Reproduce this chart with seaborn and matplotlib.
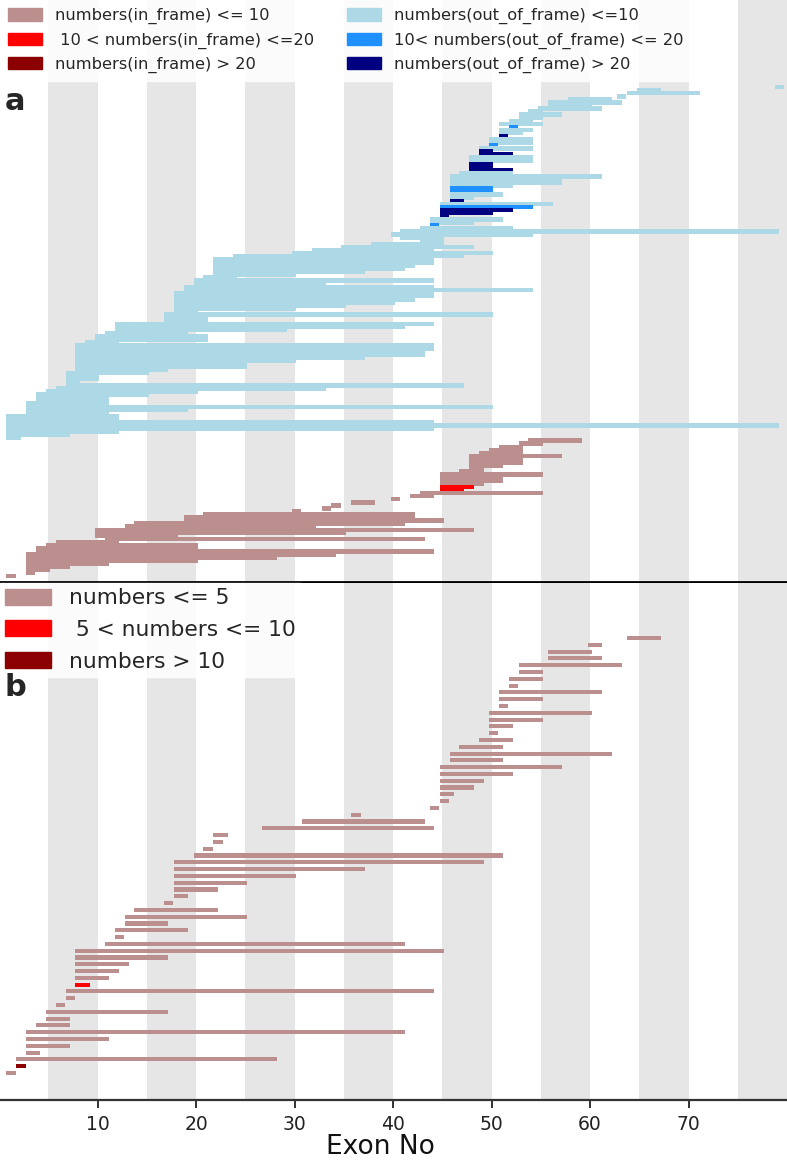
import numpy as np
import pandas as pd
import seaborn as sns
import matplotlib
matplotlib.use("Agg")
import matplotlib.pyplot as plt
from matplotlib.patches import Patch

# panel a, out of frame rows (top to bottom): first exon, last exon, count level
out_start = [79, 65, 64, 63, 58, 56, 56, 55, 54, 53, 53, 52, 51, 52, 51, 51, 51, 50, 50, 50,
             49, 49, 49, 48, 48, 48, 48, 48, 47, 46, 46, 46, 46, 46, 46, 46, 46, 46, 45, 45,
             45, 45, 45, 44, 44, 44, 43, 41, 40, 41, 43, 38, 35, 32, 30, 24, 22, 22, 22, 22,
             22, 22, 21, 20, 20, 19, 19, 18, 18, 18, 18, 18, 18, 18, 17, 17, 17, 12, 12, 12,
             11, 10, 10, 9, 8, 8, 8, 8, 8, 8, 8, 8, 8, 7, 7, 7, 7, 7, 6, 5,
             4, 4, 4, 3, 3, 3, 3, 1, 1, 1, 1, 1, 1, 1, 1]
out_end = [79, 67, 71, 63, 62, 63, 60, 61, 55, 57, 55, 54, 55, 52, 54, 53, 51, 54, 54, 50,
           54, 50, 52, 54, 54, 50, 50, 52, 52, 61, 57, 57, 52, 50, 50, 51, 48, 47, 56, 54,
           52, 50, 45, 51, 48, 44, 52, 79, 54, 45, 45, 45, 48, 44, 50, 47, 44, 44, 42, 41,
           37, 30, 24, 44, 33, 44, 54, 44, 44, 42, 40, 35, 30, 20, 50, 21, 21, 44, 41, 29,
           19, 21, 21, 12, 44, 44, 43, 43, 37, 30, 25, 25, 17, 15, 10, 10, 8, 47, 33, 20,
           15, 11, 11, 11, 50, 19, 11, 12, 12, 44, 79, 44, 12, 7, 2]
out_level = [0, 0, 0, 0, 0, 0, 0, 0, 0, 0, 0, 0, 0, 1, 0, 0, 2, 0, 0, 1,
             0, 2, 2, 0, 0, 2, 2, 2, 0, 0, 0, 0, 0, 1, 1, 0, 0, 2, 0, 1,
             2, 2, 2, 0, 0, 1, 0, 0] + [0] * 67

# panel a, in frame rows
in_start = [54, 53, 51, 50, 49, 48, 48, 48, 48, 48, 47, 45, 45, 45, 45, 45, 45, 43, 42, 40,
            36, 34, 33, 30, 21, 19, 19, 14, 13, 10, 10, 10, 11, 6, 5, 4, 4, 3, 3, 3,
            3, 3, 3, 3, 1]
in_end = [59, 55, 53, 53, 53, 57, 53, 53, 51, 49, 49, 55, 51, 51, 49, 48, 47, 55, 44, 40,
          38, 34, 33, 30, 42, 42, 45, 41, 32, 48, 35, 18, 43, 12, 20, 20, 44, 34, 28, 20,
          11, 7, 5, 3, 1]
in_level = [0] * 15 + [1, 1] + [0] * 28

# panel b rows
b_start = [64, 60, 56, 56, 53, 53, 52, 52, 51, 51, 51, 50, 50, 50, 50, 49, 47, 46, 46, 45,
           45, 45, 45, 45, 45, 44, 36, 31, 27, 22, 22, 21, 20, 18, 18, 18, 18, 18, 18, 17,
           14, 13, 13, 12, 12, 11, 8, 8, 8, 8, 8, 8, 7, 7, 6, 5, 5, 4, 3, 3,
           3, 3, 2, 2, 1]
b_end = [67, 61, 60, 61, 63, 55, 55, 52, 61, 55, 51, 60, 55, 52, 50, 52, 51, 62, 51, 57,
         52, 49, 48, 46, 45, 44, 36, 43, 44, 23, 22, 21, 51, 49, 37, 30, 25, 22, 19, 17,
         22, 25, 17, 19, 12, 41, 45, 17, 13, 12, 11, 9, 44, 7, 6, 17, 7, 7, 41, 11,
         7, 4, 28, 2, 1]
b_level = [0] * 51 + [1] + [0] * 11 + [2, 0]

in_colors = ["rosybrown", "red", "darkred"]
out_colors = ["lightblue", "dodgerblue", "navy"]
a_labels_in = ["numbers(in_frame) <= 10", " 10 < numbers(in_frame) <=20", "numbers(in_frame) > 20"]
a_labels_out = ["numbers(out_of_frame) <=10", "10< numbers(out_of_frame) <= 20", "numbers(out_of_frame) > 20"]
b_labels = ["numbers <= 5", " 5 < numbers <= 10", "numbers > 10"]
stripes = list(range(5, 80, 10))
xticks = [10, 20, 30, 40, 50, 60, 70]


def make_rows(start, end, level, colors):
    df = pd.DataFrame({"start": start, "end": end, "level": level})
    df["left"] = df["start"] - 0.25
    df["width"] = np.maximum(df["end"] - df["start"] + 0.45, 0.95)
    df["color"] = [colors[k] for k in df["level"]]
    return df


da = pd.concat([make_rows(out_start, out_end, out_level, out_colors),
                make_rows(in_start, in_end, in_level, in_colors)], ignore_index=True)
da["row"] = np.arange(len(da))
db = make_rows(b_start, b_end, b_level, in_colors)
db["row"] = np.arange(len(db))

sns.set_style("white")
plt.rcParams["font.family"] = ["DejaVu Sans"]

fig = plt.figure(figsize=(7.87, 11.66), dpi=100)
ax_a = fig.add_axes([0, 1 - 582 / 1166, 1, 582 / 1166])
ax_b = fig.add_axes([0, 66 / 1166, 1, 517 / 1166])

for ax in (ax_a, ax_b):
    for s in stripes:
        ax.axvspan(s, s + 5, color="#e6e6e6", lw=0, zorder=0)
    ax.set_xlim(0.1, 80)
    ax.set_yticks([])
    for side in ("top", "left", "right"):
        ax.spines[side].set_visible(False)

ax_a.barh(da["row"], da["width"], left=da["left"], height=1.5,
          color=da["color"], linewidth=0, zorder=2)
na = len(da)
ax_a.set_ylim(na - 1 + 1.95, -28.3)
ax_a.set_xticks([])
ax_a.spines["bottom"].set_color("black")
ax_a.spines["bottom"].set_linewidth(2.0)

ax_b.barh(db["row"], db["width"], left=db["left"], height=0.6,
          color=db["color"], linewidth=0, zorder=2)
nb = len(db)
ax_b.set_ylim(nb - 1 + 3.97, -8.09)
ax_b.set_xticks(xticks)
ax_b.tick_params(axis="x", labelsize=13.5, length=6, width=1.3, pad=5,
                 colors="#222222", bottom=True)
ax_b.spines["bottom"].set_color("#333333")
ax_b.spines["bottom"].set_linewidth(1.6)
ax_b.set_xlabel("Exon No", fontsize=19, color="#111111")
ax_b.xaxis.set_label_coords(0.484, -0.066)

handles_a = [Patch(color=c) for c in in_colors + out_colors]
leg_a = ax_a.legend(handles_a, a_labels_in + a_labels_out, loc="upper left",
                    bbox_to_anchor=(0, 1.0), ncol=2, fontsize=11.7,
                    handlelength=2.1, handleheight=0.8, handletextpad=0.8,
                    columnspacing=2.0, labelspacing=0.5, borderpad=0.5,
                    borderaxespad=0.0, fancybox=False, framealpha=0.85,
                    edgecolor="white")
leg_a.set_zorder(5)

handles_b = [Patch(color=c) for c in in_colors]
leg_b = ax_b.legend(handles_b, b_labels, loc="upper left", bbox_to_anchor=(0, 1.0),
                    fontsize=15.7, handlelength=2.1, handleheight=0.75,
                    handletextpad=0.8, labelspacing=0.53, borderpad=0.25,
                    borderaxespad=0.0, fancybox=False, framealpha=0.85,
                    edgecolor="white")
leg_b.set_zorder(5)

fig.text(15.5 / 787, 1 - 101 / 1166, "a", fontsize=22, fontweight="bold",
         ha="center", va="center")
fig.text(15.5 / 787, 1 - 688 / 1166, "b", fontsize=22, fontweight="bold",
         ha="center", va="center")

fig.savefig("out.png", dpi=100)
